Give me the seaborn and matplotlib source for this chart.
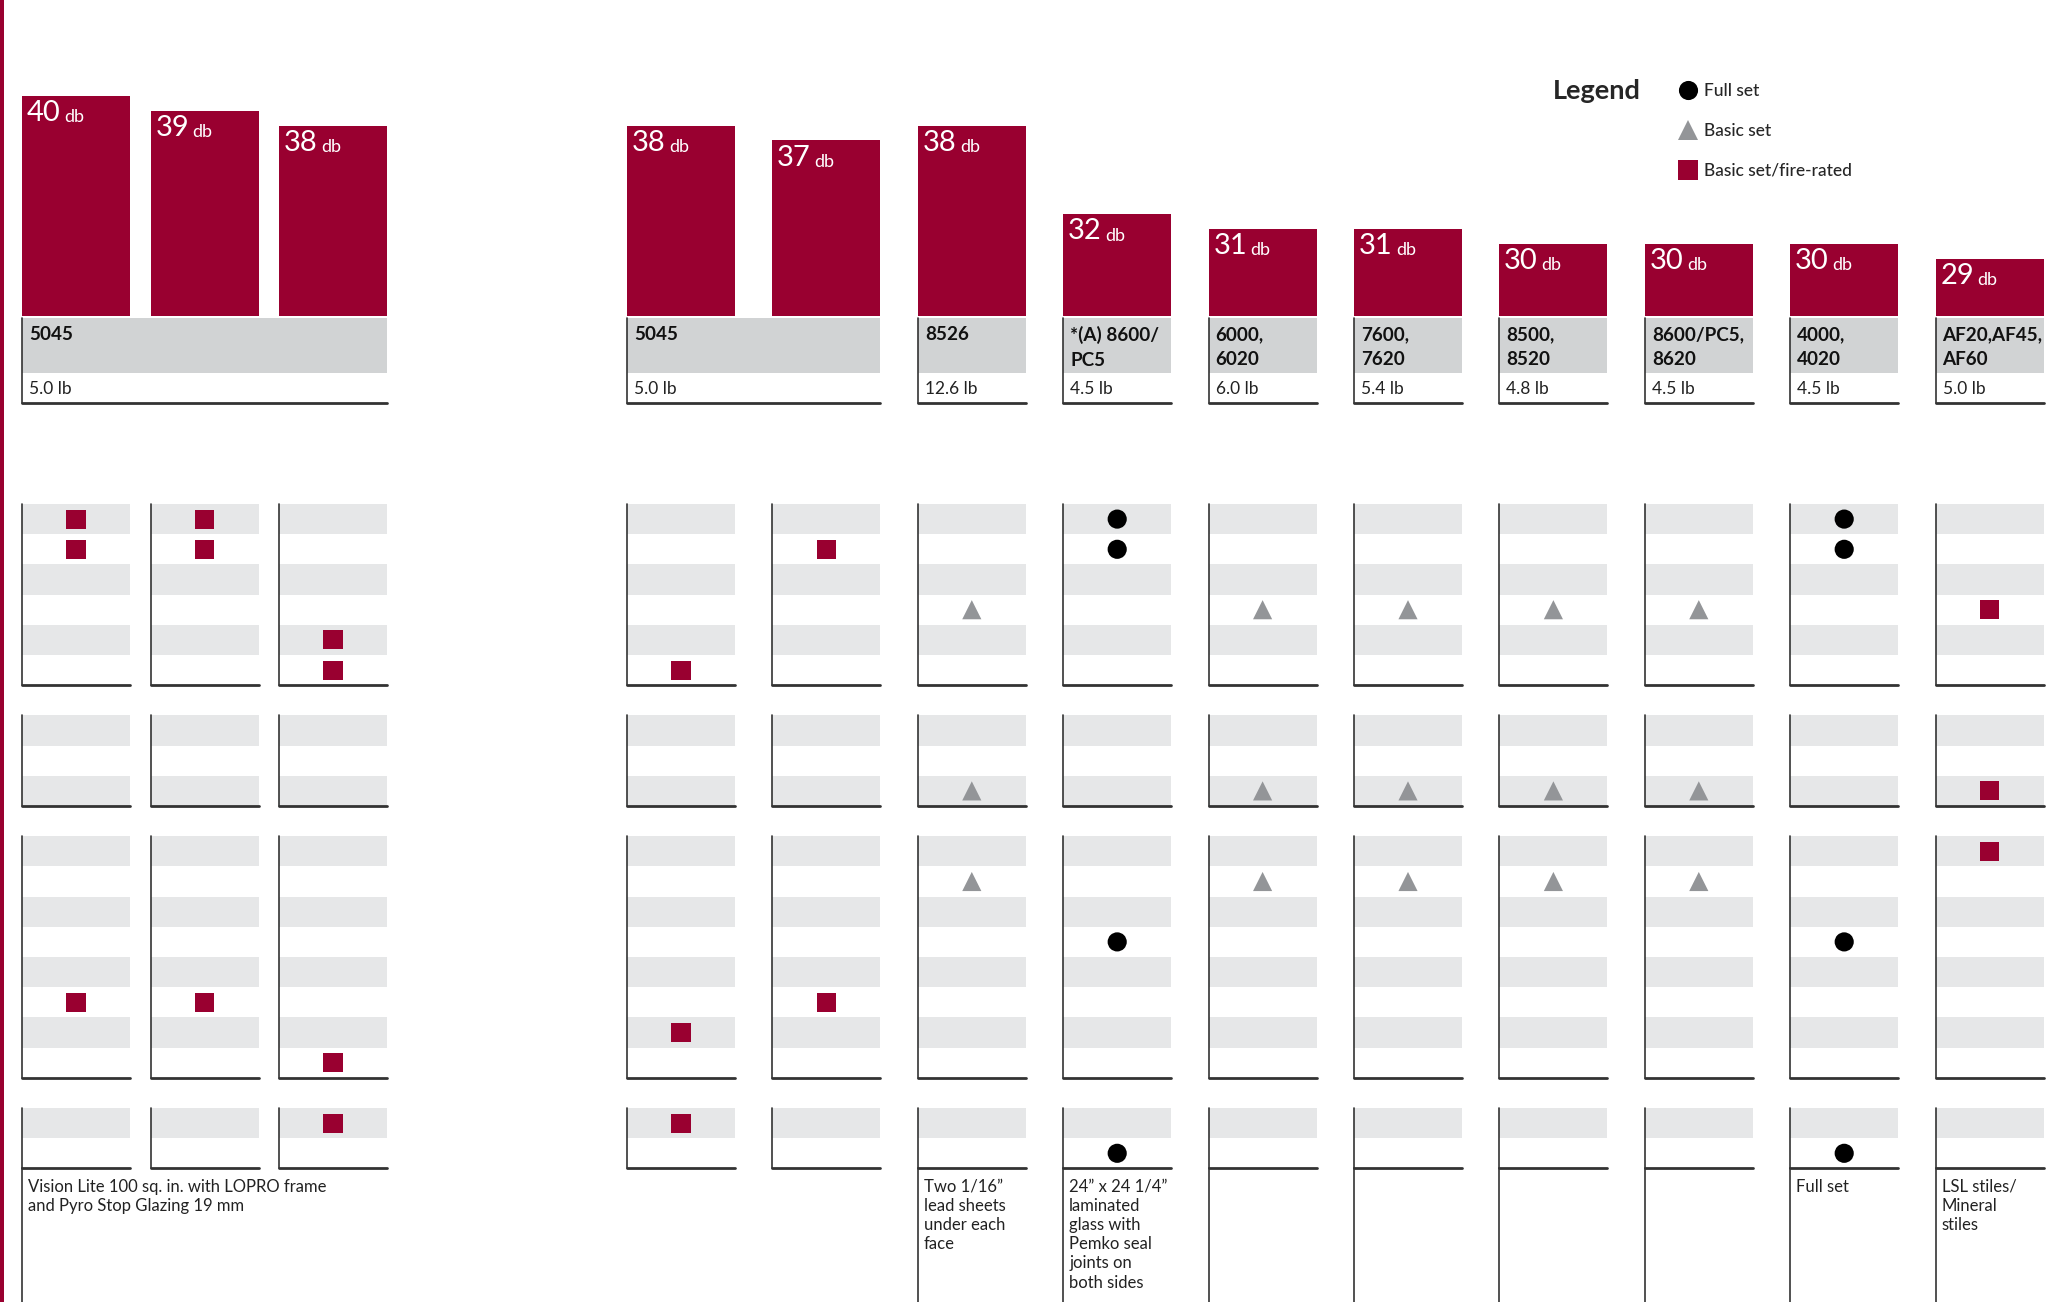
import matplotlib
matplotlib.use("Agg")
import matplotlib.pyplot as plt
import numpy as np
import pandas as pd
import seaborn as sns
from matplotlib.patches import Rectangle

# --- data ---
db_values = [40, 39, 38, 38, 37, 38, 32, 31, 31, 30, 30, 30, 29]

model_names = ["5045", "5045", "8526", "*(A) 8600/\nPC5", "6000,\n6020", "7600,\n7620",
               "8500,\n8520", "8600/PC5,\n8620", "4000,\n4020", "AF20,AF45,\nAF60"]
model_weights = ["5.0 lb", "5.0 lb", "12.6 lb", "4.5 lb", "6.0 lb", "5.4 lb",
                 "4.8 lb", "4.5 lb", "4.5 lb", "5.0 lb"]
model_span = [3, 2, 1, 1, 1, 1, 1, 1, 1, 1]

# feature rows per block of the matrix
block_sizes = [6, 3, 8, 2]

kind_names = ["Full set", "Basic set", "Basic set/fire-rated"]

full_cols = [6, 6, 6, 6, 11, 11, 11, 11]
full_rows = [0, 1, 12, 18, 0, 1, 12, 18]
basic_cols = [5, 5, 5, 7, 7, 7, 8, 8, 8, 9, 9, 9, 10, 10, 10]
basic_rows = [3, 8, 10, 3, 8, 10, 3, 8, 10, 3, 8, 10, 3, 8, 10]
fire_cols = [0, 0, 0, 1, 1, 1, 2, 2, 2, 2, 3, 3, 3, 4, 4, 12, 12, 12]
fire_rows = [0, 1, 14, 0, 1, 14, 4, 5, 16, 17, 5, 15, 17, 1, 14, 3, 8, 9]

note_cols = [0, 5, 6, 11, 12]
note_texts = [
    "Vision Lite 100 sq. in. with LOPRO frame\nand Pyro Stop Glazing 19 mm",
    "Two 1/16\u201d\nlead sheets\nunder each\nface",
    "24\u201d x 24 1/4\u201d\nlaminated\nglass with\nPemko seal\njoints on\nboth sides",
    "Full set",
    "LSL stiles/\nMineral\nstiles",
]
# columns whose left rule runs on to the bottom
open_cols = [0, 5, 6, 7, 8, 9, 10, 11, 12]

# --- layout (pixels) ---
W, H = 2058, 1302
COL_W = 108
PITCH_1 = 128.5
col_left = np.concatenate([22 + PITCH_1 * np.arange(3), 627 + 145.4 * np.arange(10)])
col_mid = col_left + COL_W / 2

BASE_Y = 316
PX_PER_DB = 14.78
DB_FLOOR = 25.12
HEAD_TOP, HEAD_MID, HEAD_BOT = 318, 373, 403
GRID_TOP, ROW_H, N_SLOTS = 504, 30.2, 22

CRIMSON = "#990030"
HEAD_GREY = "#d1d3d4"
STRIPE = "#e6e7e8"
TRI_GREY = "#939598"
LINE = "#333333"

block_start = []
s = 0
for n in block_sizes:
    block_start.append(s)
    s += n + 1
row_slot = np.concatenate([np.arange(n) + b for n, b in zip(block_sizes, block_start)])

sns.set_theme(style="white")
plt.rcParams["font.family"] = ["Lato", "DejaVu Sans"]

fig = plt.figure(figsize=(W / 100, H / 100), dpi=100)


def area(x0, y0, x1, y1):
    return [x0 / W, 1 - y1 / H, (x1 - x0) / W, (y1 - y0) / H]


bg = fig.add_axes([0, 0, 1, 1])
bg.set_xlim(0, W)
bg.set_ylim(H, 0)
bg.axis("off")
bg.add_patch(Rectangle((0, 0), 3.5, H, color=CRIMSON, lw=0))

# bars
ax_bar = fig.add_axes(area(0, 0, W, BASE_Y))
df_bar = pd.DataFrame({"x": col_mid, "db": db_values})
sns.barplot(data=df_bar, x="x", y="db", orient="x", native_scale=True,
            width=COL_W / PITCH_1, color=CRIMSON, saturation=1, errorbar=None,
            linewidth=0, ax=ax_bar)
ax_bar.set_xlim(0, W)
ax_bar.set_ylim(DB_FLOOR, DB_FLOOR + BASE_Y / PX_PER_DB)
ax_bar.axis("off")
for x0, db in zip(col_left, db_values):
    num = ax_bar.annotate(str(db), xy=(x0, db), xytext=(3.5, -3), textcoords="offset points",
                          ha="left", va="top", color="white", fontsize=21)
    ax_bar.annotate("db", xy=(1, 0), xycoords=num, xytext=(2.5, 0.6), textcoords="offset points",
                    ha="left", va="bottom", color="white", fontsize=13)

# model header
start = 0
for name, weight, span in zip(model_names, model_weights, model_span):
    x0 = col_left[start]
    x1 = col_left[start + span - 1] + COL_W
    bg.add_patch(Rectangle((x0, HEAD_TOP), x1 - x0, HEAD_MID - HEAD_TOP, color=HEAD_GREY, lw=0))
    bg.text(x0 + 7, HEAD_TOP + 8, name, ha="left", va="top", fontsize=13.6,
            fontweight="bold", linespacing=1.55, color="#111111")
    bg.text(x0 + 7, (HEAD_MID + HEAD_BOT) / 2 + 1, weight, ha="left", va="center",
            fontsize=12.5, color="#222222")
    bg.plot([x0, x0], [HEAD_TOP, HEAD_BOT], color=LINE, lw=1.2)
    bg.plot([x0, x1], [HEAD_BOT, HEAD_BOT], color=LINE, lw=2)
    start += span

# matrix grid
for c, x0 in enumerate(col_left):
    for n, b in zip(block_sizes, block_start):
        y_top = GRID_TOP + b * ROW_H
        y_bot = y_top + n * ROW_H
        for k in range(0, n, 2):
            bg.add_patch(Rectangle((x0, y_top + k * ROW_H), COL_W, ROW_H, color=STRIPE, lw=0))
        bg.plot([x0, x0], [y_top, y_bot], color=LINE, lw=1.2)
        bg.plot([x0, x0 + COL_W], [y_bot, y_bot], color=LINE, lw=2)
    if c in open_cols:
        bg.plot([x0, x0], [y_bot, H], color=LINE, lw=1.2)

for c, txt in zip(note_cols, note_texts):
    bg.text(col_left[c] + 6, 1179, txt, ha="left", va="top", fontsize=12,
            linespacing=1.24, color="#222222")

# matrix marks
marks = pd.DataFrame({
    "col": full_cols + basic_cols + fire_cols,
    "row": full_rows + basic_rows + fire_rows,
    "kind": [kind_names[0]] * len(full_cols) + [kind_names[1]] * len(basic_cols)
            + [kind_names[2]] * len(fire_cols),
})
marks["x"] = col_mid[marks["col"].to_numpy()]
marks["slot"] = row_slot[marks["row"].to_numpy()] + 0.5

ax_m = fig.add_axes(area(0, GRID_TOP, W, GRID_TOP + N_SLOTS * ROW_H))
sns.scatterplot(data=marks, x="x", y="slot", hue="kind", style="kind",
                hue_order=kind_names, style_order=kind_names,
                palette=["black", TRI_GREY, CRIMSON], markers=["o", "^", "s"],
                s=190, linewidth=0, ax=ax_m)
ax_m.set_xlim(0, W)
ax_m.set_ylim(N_SLOTS, 0)
ax_m.axis("off")

sns.move_legend(ax_m, "center left", bbox_to_anchor=(1678 / W, 1 - 131 / H),
                bbox_transform=fig.transFigure, title=None, frameon=False,
                fontsize=12.5, handlelength=1.1, handletextpad=0.38,
                labelspacing=1.38, borderpad=0, borderaxespad=0)
for t in ax_m.get_legend().get_texts():
    t.set_fontweight("medium")
bg.text(1553, 99, "Legend", fontsize=19.5, fontweight="bold", va="baseline", ha="left")

fig.savefig("out.png", dpi=100)
